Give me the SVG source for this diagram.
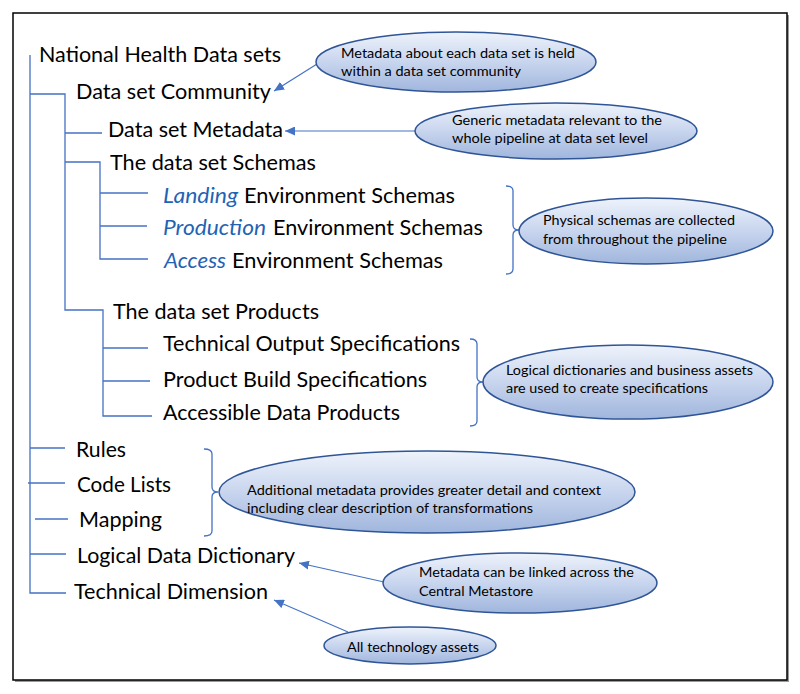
<svg xmlns="http://www.w3.org/2000/svg" width="800" height="694" viewBox="0 0 800 694">
  <defs>
    <linearGradient id="bub" x1="0" y1="0" x2="0" y2="1">
      <stop offset="0" stop-color="#eef3fb"/>
      <stop offset="0.5" stop-color="#c8d5ee"/>
      <stop offset="1" stop-color="#a0b6dd"/>
    </linearGradient>
    <marker id="arr" markerUnits="userSpaceOnUse" markerWidth="11" markerHeight="9" refX="10" refY="4.5" orient="auto">
      <path d="M0,0 L10,4.5 L0,9 z" fill="#4472c4"/>
    </marker>
  </defs>
  <style>
    .lbl { font-family: Lato, "Open Sans", "Liberation Sans", sans-serif; font-size: 21px; fill: #000; }
    .it { font-style: italic; fill: #1f63b5; }
    .note { font-family: Lato, "Open Sans", "Liberation Sans", sans-serif; font-size: 14px; fill: #000; }
    .bubble { fill: url(#bub); stroke: #2f5597; stroke-width: 1.5; }
    .tree { fill: none; stroke: #4472c4; stroke-width: 1.3; }
    .arrow { fill: none; stroke: #4472c4; stroke-width: 1.2; marker-end: url(#arr); }
  </style>
  <rect x="0" y="0" width="800" height="694" fill="#ffffff"/>
  <rect x="15" y="15" width="774" height="667" fill="#9a9a9a"/>
  <rect x="13" y="13" width="774" height="667" fill="#ffffff" stroke="#000" stroke-width="1.5"/>

  <g id="connectors">
    <path class="tree" d="M30,55 V593 H66"/>
    <path class="tree" d="M30,94 H65 V310 H103 V416 H152"/>
    <path class="tree" d="M65,133 H102"/>
    <path class="tree" d="M65,162 H100 V259 H148"/>
    <path class="tree" d="M100,193 H148"/>
    <path class="tree" d="M100,226 H147"/>
    <path class="tree" d="M103,348 H148"/>
    <path class="tree" d="M103,381 H150"/>
    <path class="tree" d="M30,448 H65"/>
    <path class="tree" d="M28,483 H65"/>
    <path class="tree" d="M35,519 H68"/>
    <path class="tree" d="M30,554 H66"/>
    <path class="tree" d="M506,186 Q513,186 513,191 V225 Q513,230 519,230 Q513,230 513,235 V269 Q513,274 506,274"/>
    <path class="tree" d="M470,339 Q477,339 477,344 V377 Q477,382 483,382 Q477,382 477,387 V421 Q477,426 470,426"/>
    <path class="tree" d="M204,449 Q212,449 212,454 V487 Q212,492 218,492 Q212,492 212,497 V531 Q212,536 204,536"/>
    <path class="arrow" d="M317,64 L274,91"/>
    <path class="arrow" d="M415,131 L285,131"/>
    <path class="arrow" d="M384,582 L299,563"/>
    <path class="arrow" d="M348,632 L274,600"/>
  </g>

  <g id="n-nhds"><text class="lbl" x="39" y="62" textLength="242" lengthAdjust="spacingAndGlyphs">National Health Data sets</text></g>
  <g id="n-community"><text class="lbl" x="76" y="99" textLength="195" lengthAdjust="spacingAndGlyphs">Data set Community</text></g>
  <g id="n-metadata"><text class="lbl" x="108" y="137" textLength="175" lengthAdjust="spacingAndGlyphs">Data set Metadata</text></g>
  <g id="n-schemas"><text class="lbl" x="110" y="170" textLength="206" lengthAdjust="spacingAndGlyphs">The data set Schemas</text></g>
  <g id="n-landing">
    <text class="lbl it" x="163" y="203" textLength="75" lengthAdjust="spacingAndGlyphs">Landing</text>
    <text class="lbl" x="244" y="203" textLength="211" lengthAdjust="spacingAndGlyphs">Environment Schemas</text>
  </g>
  <g id="n-production">
    <text class="lbl it" x="163" y="235" textLength="103" lengthAdjust="spacingAndGlyphs">Production</text>
    <text class="lbl" x="273" y="235" textLength="210" lengthAdjust="spacingAndGlyphs">Environment Schemas</text>
  </g>
  <g id="n-access">
    <text class="lbl it" x="164" y="268" textLength="62" lengthAdjust="spacingAndGlyphs">Access</text>
    <text class="lbl" x="232" y="268" textLength="211" lengthAdjust="spacingAndGlyphs">Environment Schemas</text>
  </g>
  <g id="n-products"><text class="lbl" x="113" y="319" textLength="206" lengthAdjust="spacingAndGlyphs">The data set Products</text></g>
  <g id="n-tos"><text class="lbl" x="163" y="351" textLength="297" lengthAdjust="spacingAndGlyphs">Technical Output Specifications</text></g>
  <g id="n-pbs"><text class="lbl" x="163" y="387" textLength="264" lengthAdjust="spacingAndGlyphs">Product Build Specifications</text></g>
  <g id="n-adp"><text class="lbl" x="163" y="420" textLength="237" lengthAdjust="spacingAndGlyphs">Accessible Data Products</text></g>
  <g id="n-rules"><text class="lbl" x="76" y="457" textLength="50" lengthAdjust="spacingAndGlyphs">Rules</text></g>
  <g id="n-codelists"><text class="lbl" x="77" y="492" textLength="94" lengthAdjust="spacingAndGlyphs">Code Lists</text></g>
  <g id="n-mapping"><text class="lbl" x="79" y="527" textLength="83" lengthAdjust="spacingAndGlyphs">Mapping</text></g>
  <g id="n-ldd"><text class="lbl" x="77" y="563" textLength="218" lengthAdjust="spacingAndGlyphs">Logical Data Dictionary</text></g>
  <g id="n-techdim"><text class="lbl" x="74" y="599" textLength="194" lengthAdjust="spacingAndGlyphs">Technical Dimension</text></g>

  <g id="b-community">
    <ellipse class="bubble" cx="456" cy="62" rx="140" ry="30"/>
    <text class="note" x="341" y="58" textLength="234" lengthAdjust="spacingAndGlyphs">Metadata about each data set is held</text>
    <text class="note" x="341" y="76" textLength="180" lengthAdjust="spacingAndGlyphs">within a data set community</text>
  </g>
  <g id="b-generic">
    <ellipse class="bubble" cx="556" cy="131" rx="141" ry="28"/>
    <text class="note" x="452" y="125" textLength="210" lengthAdjust="spacingAndGlyphs">Generic metadata relevant to the</text>
    <text class="note" x="452" y="143" textLength="196" lengthAdjust="spacingAndGlyphs">whole pipeline at data set level</text>
  </g>
  <g id="b-physical">
    <ellipse class="bubble" cx="646" cy="231" rx="127" ry="33"/>
    <text class="note" x="543" y="225" textLength="192" lengthAdjust="spacingAndGlyphs">Physical schemas are collected</text>
    <text class="note" x="543" y="244" textLength="184" lengthAdjust="spacingAndGlyphs">from throughout the pipeline</text>
  </g>
  <g id="b-logical">
    <ellipse class="bubble" cx="628" cy="382" rx="145" ry="37"/>
    <text class="note" x="506" y="375" textLength="247" lengthAdjust="spacingAndGlyphs">Logical dictionaries and business assets</text>
    <text class="note" x="506" y="393" textLength="202" lengthAdjust="spacingAndGlyphs">are used to create specifications</text>
  </g>
  <g id="b-additional">
    <ellipse class="bubble" cx="427" cy="492" rx="208" ry="41"/>
    <text class="note" x="247" y="495" textLength="354" lengthAdjust="spacingAndGlyphs">Additional metadata provides greater detail and context</text>
    <text class="note" x="247" y="513" textLength="286" lengthAdjust="spacingAndGlyphs">including clear description of transformations</text>
  </g>
  <g id="b-linked">
    <ellipse class="bubble" cx="520" cy="583" rx="137" ry="30"/>
    <text class="note" x="419" y="577" textLength="215" lengthAdjust="spacingAndGlyphs">Metadata can be linked across the</text>
    <text class="note" x="419" y="596" textLength="114" lengthAdjust="spacingAndGlyphs">Central Metastore</text>
  </g>
  <g id="b-tech">
    <ellipse class="bubble" cx="410" cy="645.5" rx="86" ry="18.5"/>
    <text class="note" x="347" y="652" font-size="15.5" textLength="132" lengthAdjust="spacingAndGlyphs">All technology assets</text>
  </g>
</svg>
